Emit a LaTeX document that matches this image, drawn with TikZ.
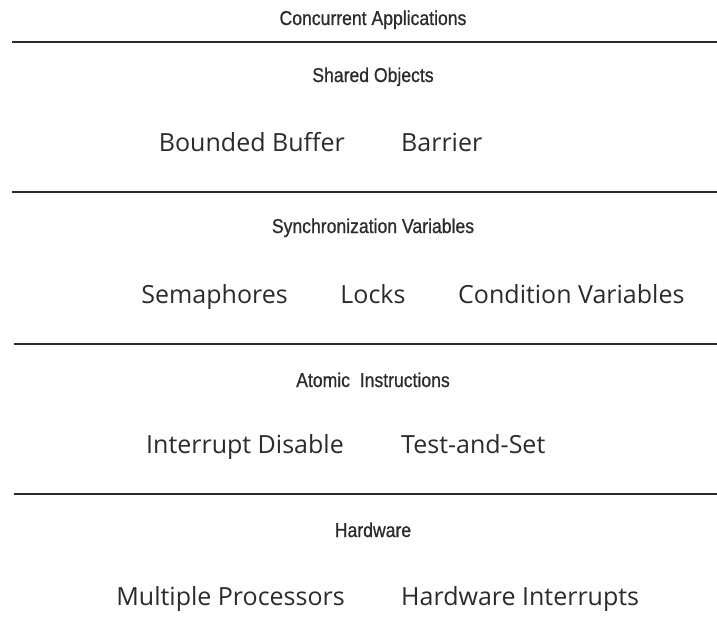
\documentclass[tikz,border=0pt]{standalone}
\usepackage{fontspec}
\usepackage{tikz}
\usetikzlibrary{positioning}
\newfontfamily\headfont[FakeStretch=0.88,FakeBold=0.8]{Liberation Sans}
\newfontfamily\itemfont{Open Sans}
\definecolor{inkgray}{HTML}{2B2B2B}

\begin{document}
\begin{tikzpicture}[x=1pt,y=-1pt,
    layer/.style={font=\headfont\fontsize{20}{22}\selectfont,text=inkgray,inner sep=0pt,anchor=base},
    item/.style={font=\itemfont\fontsize{25}{30}\selectfont,text=inkgray,inner sep=0pt},
    rule/.style={draw=inkgray,line width=1.4pt}]
    \useasboundingbox (0,0) rectangle (717,642);
    % layer titles
    \node[layer] (apps) at (373,25) {Concurrent Applications};
    \node[layer] (shared) at (373,82) {Shared Objects};
    \node[layer] (sync) at (373,233) {Synchronization Variables};
    \node[layer] (atomic) at (373,387) {Atomic\ \ Instructions};
    \node[layer] (hw) at (373,537) {Hardware};
    % separators
    \draw[rule] (12,42) -- (717,42);
    \draw[rule] (12,192) -- (717,192);
    \draw[rule] (14,344) -- (717,344);
    \draw[rule] (14,494) -- (717,494);
    % shared objects
    \node[item,anchor=base east] (buffer) at (345,151) {Bounded Buffer};
    \node[item,anchor=base west] (barrier) at (401,151) {Barrier};
    % synchronization variables
    \node[item,anchor=base] (locks) at (373,303) {Locks};
    \node[item,anchor=base east] (sema) at (288,303) {Semaphores};
    \node[item,anchor=base west] (condvar) at (458,303) {Condition Variables};
    % atomic instructions
    \node[item,anchor=base east] (intdis) at (344,453) {Interrupt Disable};
    \node[item,anchor=base west] (tas) at (401,453) {Test-and-Set};
    % hardware
    \node[item,anchor=base east] (multi) at (345,605) {Multiple Processors};
    \node[item,anchor=base west] (hwint) at (401,605) {Hardware Interrupts};
\end{tikzpicture}
\end{document}
